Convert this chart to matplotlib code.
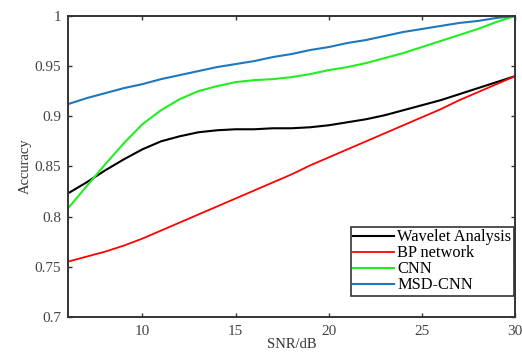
import matplotlib.pyplot as plt

plt.rcParams['font.family'] = ['Liberation Serif', 'DejaVu Serif']

# accuracy vs SNR for each method
snr = list(range(6, 31))

wavelet = [0.823, 0.834, 0.846, 0.857, 0.867, 0.875, 0.880, 0.884, 0.886, 0.887,
           0.887, 0.888, 0.888, 0.889, 0.891, 0.894, 0.897, 0.901, 0.906, 0.911,
           0.916, 0.922, 0.928, 0.934, 0.940]
bp = [0.755, 0.760, 0.765, 0.771, 0.778, 0.786, 0.794, 0.802, 0.810, 0.818,
      0.826, 0.834, 0.842, 0.851, 0.859, 0.867, 0.875, 0.883, 0.891, 0.899,
      0.907, 0.916, 0.924, 0.932, 0.940]
cnn = [0.808, 0.830, 0.852, 0.873, 0.892, 0.906, 0.917, 0.925, 0.930, 0.934,
       0.936, 0.937, 0.939, 0.942, 0.946, 0.949, 0.953, 0.958, 0.963, 0.969,
       0.975, 0.981, 0.987, 0.994, 1.000]
msd_cnn = [0.912, 0.918, 0.923, 0.928, 0.932, 0.937, 0.941, 0.945, 0.949, 0.952,
           0.955, 0.959, 0.962, 0.966, 0.969, 0.973, 0.976, 0.980, 0.984, 0.987,
           0.990, 0.993, 0.995, 0.998, 1.000]

xticks = [10, 15, 20, 25, 30]
yticks = [0.7, 0.75, 0.8, 0.85, 0.9, 0.95, 1.0]
ytick_labels = ['0.7', '0.75', '0.8', '0.85', '0.9', '0.95', '1']

fig = plt.figure(figsize=(5.22, 3.54), dpi=100)
ax = fig.add_axes([0.130, 0.105, 0.857, 0.850])

ax.plot(snr, wavelet, color='black', lw=1.5, label='Wavelet Analysis')
ax.plot(snr, bp, color='#ff0000', lw=1.3, label='BP network')
ax.plot(snr, cnn, color='#22ee22', lw=1.5, label='CNN')
ax.plot(snr, msd_cnn, color='#1f77bd', lw=1.5, label='MSD-CNN')

ax.set_xlim(6, 30)
ax.set_ylim(0.7, 1.0)
ax.set_xticks(xticks)
ax.set_yticks(yticks)
ax.set_yticklabels(ytick_labels)
ax.tick_params(direction='in', top=True, right=True, length=3, width=1,
               labelsize=11, colors='#333333', labelcolor='#444444')
ax.tick_params(axis='x', pad=6)
ax.tick_params(axis='y', pad=5)
for sp in ax.spines.values():
    sp.set_linewidth(1.4)
    sp.set_color('#333333')

ax.set_xlabel('SNR/dB', fontsize=10.5, color='#333333', labelpad=0)
ax.set_ylabel('Accuracy', fontsize=10.5, color='#333333', labelpad=2)

leg = ax.legend(loc='lower right', bbox_to_anchor=(0.997, 0.07), fontsize=11.8,
                fancybox=False, framealpha=1, edgecolor='#333333',
                handlelength=2.5, handletextpad=0.2, borderpad=0.15,
                labelspacing=0.0, borderaxespad=0)
leg.get_frame().set_linewidth(1.2)

fig.savefig('out.png', dpi=100)
